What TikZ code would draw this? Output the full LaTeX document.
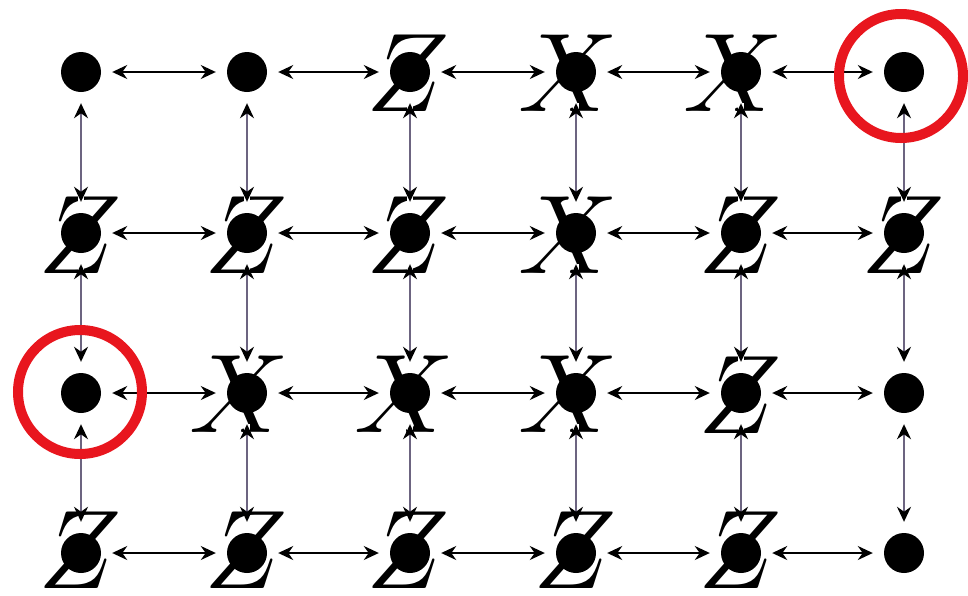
\documentclass[tikz,border=0pt]{standalone}
\usepackage{fix-cm}
\usetikzlibrary{arrows.meta}
\definecolor{ringred}{RGB}{232,22,30}
\definecolor{vgray}{RGB}{108,100,128}
\begin{document}
\begin{tikzpicture}[x=1pt,y=-1pt,
  dotn/.style={circle,fill=black,minimum size=40pt,inner sep=0pt},
  letter/.style={inner sep=0pt,font=\fontsize{112}{112}\selectfont},
  halo/.style={preaction={draw=white,line width=6pt,arrows=-}},
  hedge/.style={halo,{Stealth[length=15pt,width=14pt]}-{Stealth[length=15pt,width=14pt]},line width=1.8pt,draw=black,shorten <=11pt,shorten >=11pt},
  vedge/.style={halo,{Stealth[length=15pt,width=14pt,color=black]}-{Stealth[length=15pt,width=14pt,color=black]},line width=1.8pt,draw=vgray,shorten <=11pt,shorten >=11pt},
  ring/.style={circle,draw=ringred,line width=10pt,minimum size=124pt,inner sep=0pt}]
\useasboundingbox (0,0) rectangle (968,595);
% letters (behind the dots)
\node[letter] (L13) at (408,73) {$Z$};
\node[letter] (L14) at (568,73) {$X$};
\node[letter] (L15) at (733,73) {$X$};
\node[letter] (L21) at (80,235) {$Z$};
\node[letter] (L22) at (246,235) {$Z$};
\node[letter] (L23) at (408,235) {$Z$};
\node[letter] (L24) at (568,235) {$X$};
\node[letter] (L25) at (740,235) {$Z$};
\node[letter] (L26) at (903,235) {$Z$};
\node[letter] (L32) at (239,394) {$X$};
\node[letter] (L33) at (404,394) {$X$};
\node[letter] (L34) at (568,394) {$X$};
\node[letter] (L35) at (740,395) {$Z$};
\node[letter] (L41) at (80,550) {$Z$};
\node[letter] (L42) at (246,550) {$Z$};
\node[letter] (L43) at (408,550) {$Z$};
\node[letter] (L44) at (575,550) {$Z$};
\node[letter] (L45) at (740,550) {$Z$};
% dots
\foreach \c/\x in {1/81,2/247,3/410,4/576,5/741,6/904}{
  \foreach \r/\y in {1/72,2/233,3/393,4/553}{
    \node[dotn] (d\r\c) at (\x,\y) {};
  }
}
% horizontal connectors
\foreach \r in {1,2,3,4}{
  \foreach \a/\b in {1/2,2/3,3/4,4/5,5/6}{
    \draw[hedge] (d\r\a) -- (d\r\b);
  }
}
% vertical connectors
\foreach \a/\b in {1/2,2/3,3/4}{
  \foreach \c in {1,2,3,4,5,6}{
    \draw[vedge] (d\a\c) -- (d\b\c);
  }
}
% red rings
\node[ring] (ringA) at (901,76) {};
\node[ring] (ringB) at (80,392) {};
\end{tikzpicture}
\end{document}
